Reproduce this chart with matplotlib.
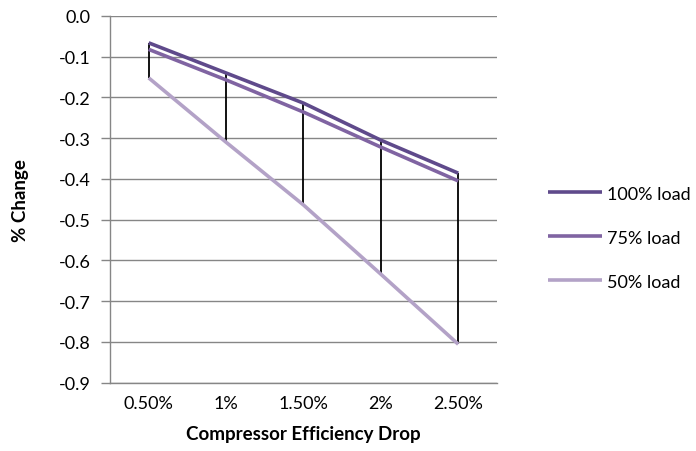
import matplotlib
matplotlib.use("Agg")
import matplotlib.pyplot as plt
import numpy as np

categories = ["0.50%", "1%", "1.50%", "2%", "2.50%"]
load_100 = [-0.066, -0.140, -0.214, -0.305, -0.386]
load_75 = [-0.082, -0.157, -0.236, -0.322, -0.405]
load_50 = [-0.152, -0.310, -0.464, -0.634, -0.806]
series_names = ["100% load", "75% load", "50% load"]
y_ticks = [0.0, -0.1, -0.2, -0.3, -0.4, -0.5, -0.6, -0.7, -0.8, -0.9]

plt.rcParams['font.family'] = ['Lato', 'DejaVu Sans']

fig = plt.figure(figsize=(6.96, 4.52), dpi=100)
ax = fig.add_axes([0.158, 0.1515, 0.556, 0.811])

x = np.arange(len(categories))
grid_color = "#868686"

for v in y_ticks:
    ax.axhline(v, color=grid_color, lw=1.0, zorder=1)

# high-low lines spanning all series at each category
all_series = np.array([load_100, load_75, load_50])
ax.vlines(x, all_series.min(axis=0), all_series.max(axis=0), color="black", lw=1.3, zorder=2)

colors = ["#5F4A8B", "#8064A2", "#B3A2C7"]
for vals, name, c in zip([load_100, load_75, load_50], series_names, colors):
    ax.plot(x, vals, color=c, lw=2.6, label=name, zorder=3, solid_capstyle="butt")

ax.set_xlim(-0.5, len(categories) - 0.5)
ax.set_ylim(-0.9, 0.0)
ax.set_yticks(y_ticks)
ax.set_yticklabels([f"{v:.1f}" for v in y_ticks])
ax.set_xticks(x)
ax.set_xticklabels(categories)

for s in ["top", "right"]:
    ax.spines[s].set_visible(False)
ax.spines["left"].set_color(grid_color)
ax.spines["bottom"].set_color(grid_color)
ax.spines["left"].set_linewidth(1.0)
ax.spines["bottom"].set_linewidth(1.0)
ax.tick_params(axis="y", length=6.5, color=grid_color, width=1.0, labelsize=13, pad=7.5)
ax.tick_params(axis="x", length=0, labelsize=13, pad=9)

ax.set_xlabel("Compressor Efficiency Drop", fontsize=13.5, fontweight="bold", labelpad=10)
ax.set_ylabel("% Change", fontsize=13.5, fontweight="bold", labelpad=21)

ax.legend(loc="center left", bbox_to_anchor=(1.132, 0.395), frameon=False, fontsize=13,
          handlelength=3.0, handletextpad=0.25, labelspacing=1.55,
          borderpad=0, borderaxespad=0)

fig.savefig("out.png", dpi=100)
